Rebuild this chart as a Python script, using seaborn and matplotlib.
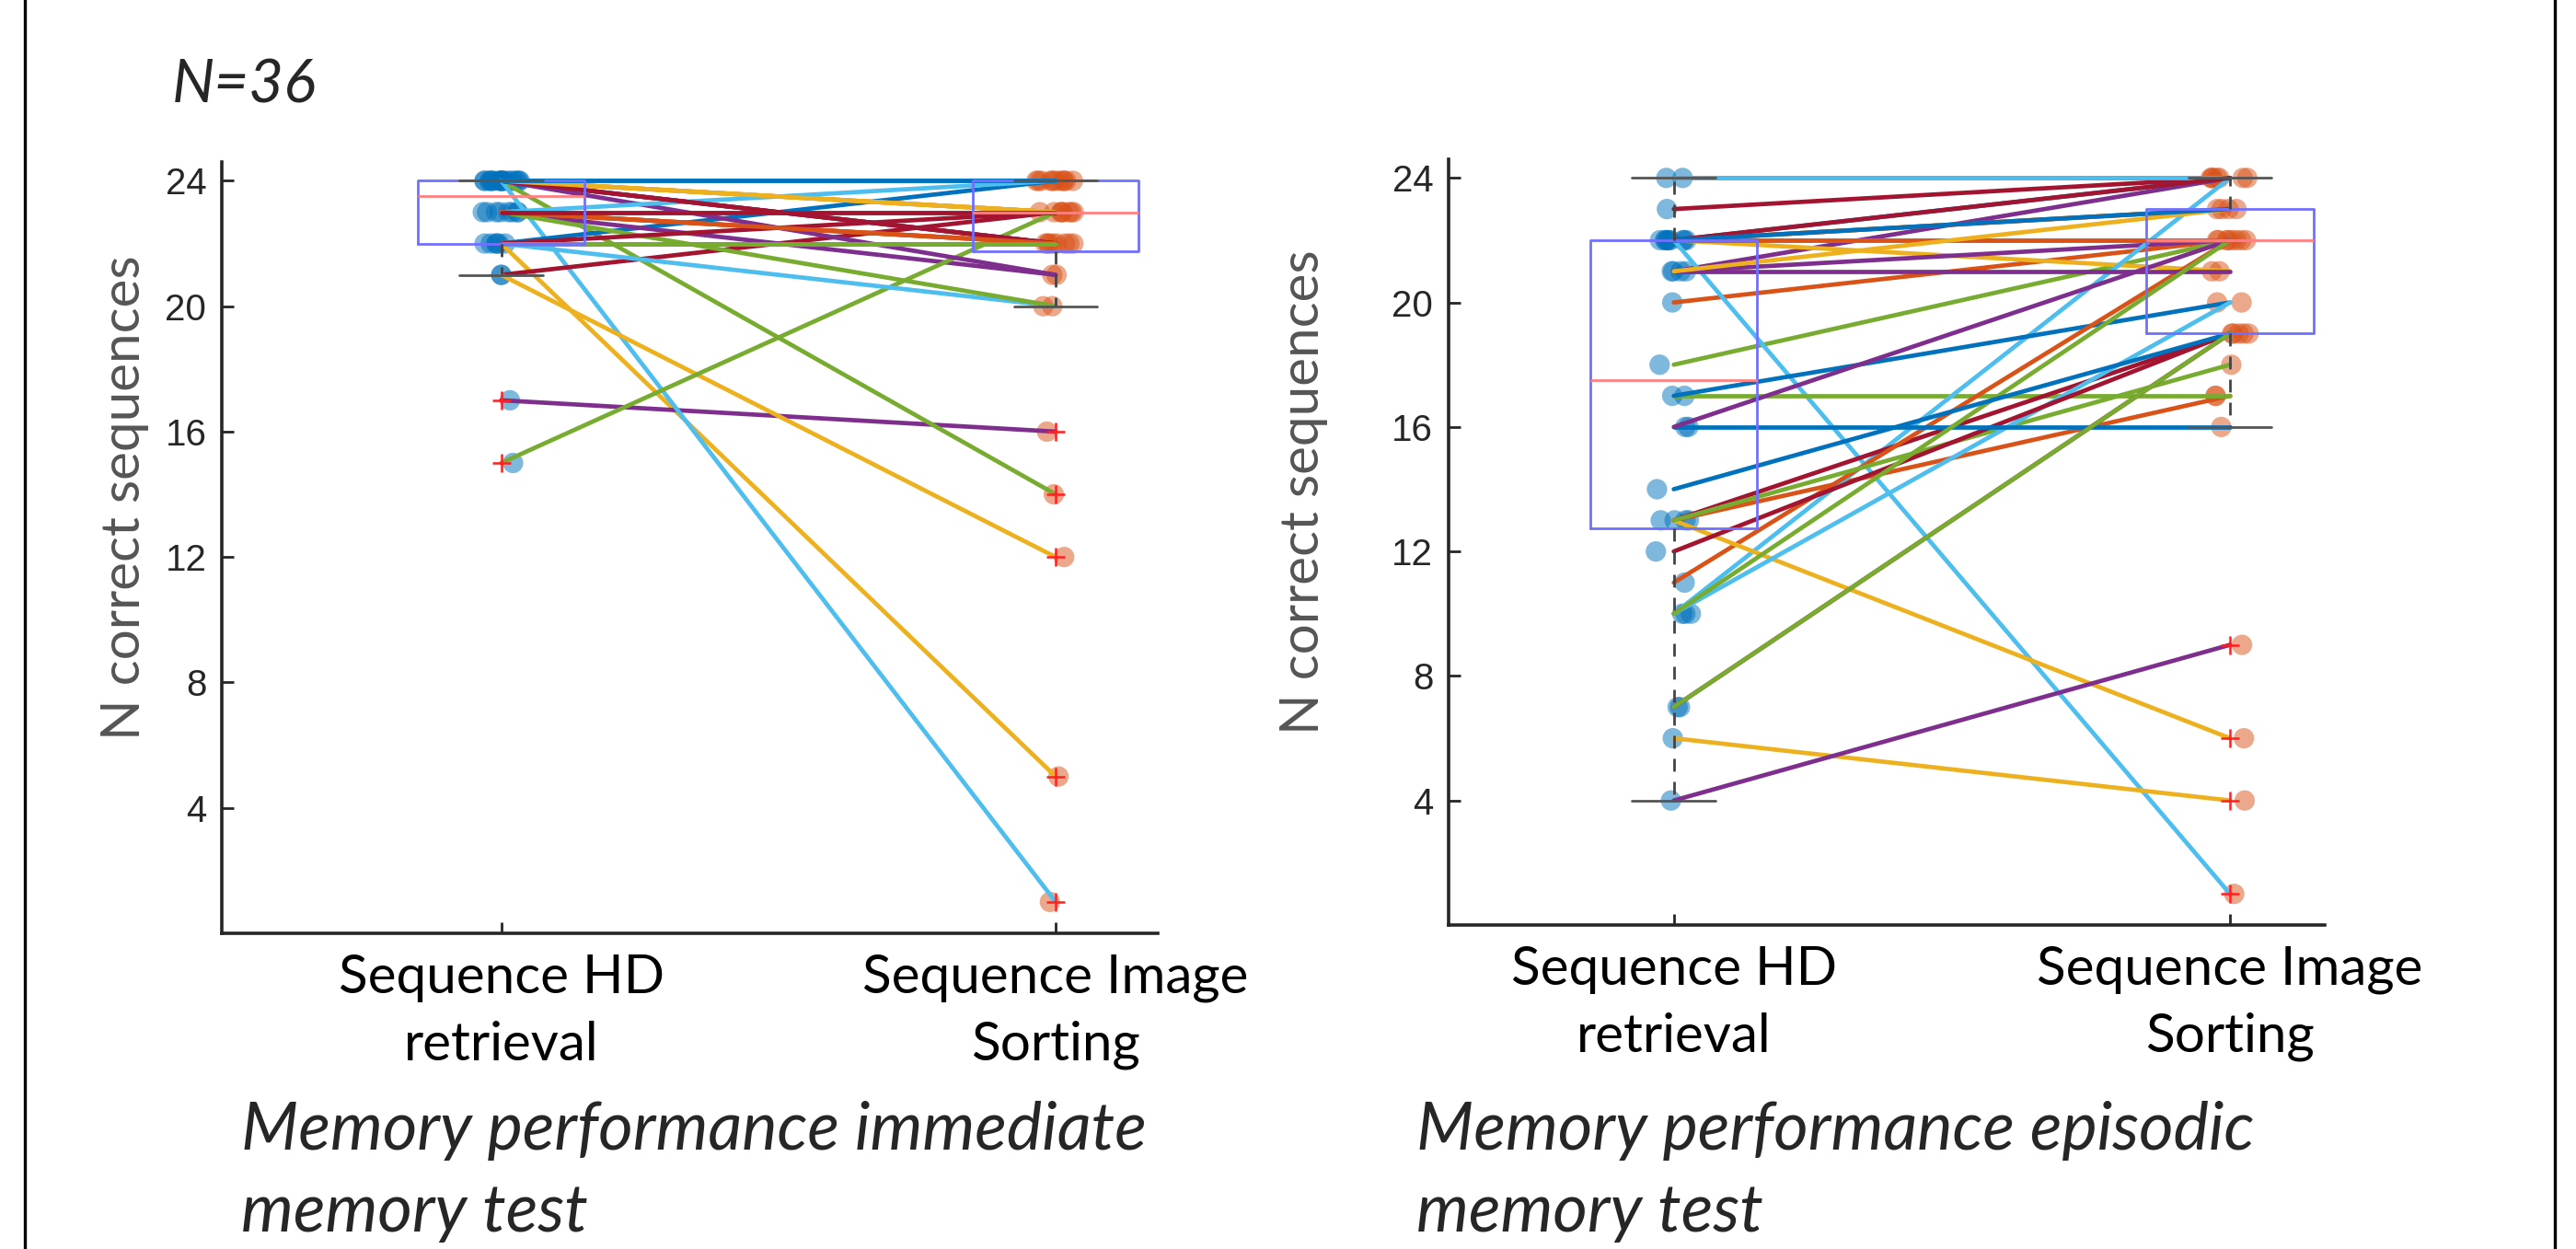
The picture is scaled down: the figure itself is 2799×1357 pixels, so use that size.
import numpy as np
import pandas as pd
import matplotlib
matplotlib.use("Agg")
import matplotlib.pyplot as plt
from matplotlib.patches import Rectangle
import seaborn as sns

# conditions on the x axis
conditions = ["Sequence HD\nretrieval", "Sequence Image\nSorting"]

# immediate memory test, one entry per participant (N=36)
immediate_hd = [24, 23, 22, 17, 24, 24, 21, 22, 24, 21, 23, 15, 22, 24, 24, 23, 24, 24,
                23, 23, 22, 24, 22, 24, 24, 23, 24, 24, 24, 23, 24, 24, 22, 24, 23, 24]
immediate_img = [24, 22, 5, 16, 14, 1, 23, 24, 23, 12, 21, 23, 20, 22, 24, 22, 23, 21,
                 20, 24, 23, 24, 22, 24, 22, 23, 24, 22, 24, 22, 23, 24, 22, 24, 23, 24]

# episodic memory test
episodic_hd = [24, 20, 22, 21, 18, 22, 23, 22, 13, 22, 21, 17, 10, 13, 17, 11, 13, 21,
               13, 10, 12, 16, 22, 6, 16, 10, 22, 7, 14, 22, 21, 4, 7, 24, 22, 22]
episodic_img = [24, 22, 23, 24, 22, 1, 24, 24, 17, 21, 22, 17, 24, 19, 20, 22, 6, 21,
                18, 20, 19, 16, 23, 4, 22, 22, 22, 19, 19, 22, 23, 9, 19, 24, 24, 23]

y_ticks = [4, 8, 12, 16, 20, 24]

# MATLAB default line colour order
matlab_colors = ["#0072BD", "#D95319", "#EDB120", "#7E2F8E", "#77AC30", "#4DBEEE", "#A2142F"]
point_colors = {conditions[0]: "#0072BD", conditions[1]: "#D95319"}

sns.set_style("ticks")
plt.rcParams["font.family"] = ["Liberation Sans", "DejaVu Sans"]

np.random.seed(7)


def make_long(hd, img):
    n = len(hd)
    return pd.DataFrame({
        "subject": list(range(n)) * 2,
        "cond": [conditions[0]] * n + [conditions[1]] * n,
        "pos": [0] * n + [1] * n,
        "value": list(hd) + list(img),
    })


def draw_panel(ax, hd, img, xlim, ylabel_x):
    df = make_long(hd, img)
    palette = [matlab_colors[i % 7] for i in range(len(hd))]

    sns.stripplot(data=df, x="cond", y="value", hue="cond", palette=point_colors,
                  order=conditions, jitter=0.035, size=16, alpha=0.5, linewidth=0,
                  legend=False, ax=ax, zorder=1)
    sns.lineplot(data=df, x="pos", y="value", hue="subject", palette=palette,
                 units="subject", estimator=None, sort=False, linewidth=3.4,
                 legend=False, ax=ax, zorder=2)
    sns.boxplot(data=df, x="cond", y="value", order=conditions, width=0.3,
                fill=False, color="#7070FF", linewidth=2,
                boxprops=dict(color="#7070FF", linewidth=2),
                medianprops=dict(color="#FF8080", linewidth=2),
                whiskerprops=dict(color="#444444", linestyle=(0, (5, 4)), linewidth=2),
                capprops=dict(color="#555555", linewidth=2),
                flierprops=dict(marker="+", markeredgecolor="#FF2020", markersize=14,
                                markeredgewidth=1.8),
                ax=ax)

    ax.set_xlim(*xlim)
    ax.set_ylim(0, 24.6)
    ax.set_yticks(y_ticks)
    ax.set_xticks([0, 1])
    ax.set_xticklabels(conditions, family="Lato", fontsize=42, color="black",
                       linespacing=1.45)
    ax.tick_params(axis="y", direction="in", length=9, width=2, labelsize=29,
                   labelcolor="#262626", pad=12)
    ax.tick_params(axis="x", direction="in", length=9, width=2, pad=16)
    ax.set_xlabel("")
    ax.set_ylabel("N correct sequences", family="Lato", fontsize=42, color="#555555")
    ax.yaxis.set_label_coords(ylabel_x, 0.565)
    for side in ["top", "right"]:
        ax.spines[side].set_visible(False)
    for side in ["left", "bottom"]:
        ax.spines[side].set_linewidth(2.6)
        ax.spines[side].set_color("#262626")


fig = plt.figure(figsize=(27.99, 13.57), dpi=100)
ax1 = fig.add_axes([0.0861, 0.2528, 0.3633, 0.6175])
ax2 = fig.add_axes([0.5623, 0.2594, 0.3401, 0.6131])

draw_panel(ax1, immediate_hd, immediate_img, (-0.504, 1.184), -0.078)
draw_panel(ax2, episodic_hd, episodic_img, (-0.405, 1.17), -0.138)

fig.text(0.0668, 0.9315, "N=36", family="Lato", style="italic", fontsize=47,
         va="center", ha="left")
fig.text(0.0937, 0.062, "Memory performance immediate\nmemory test", family="Lato",
         style="italic", fontsize=52, va="center", ha="left", linespacing=1.45)
fig.text(0.5498, 0.062, "Memory performance episodic\nmemory test", family="Lato",
         style="italic", fontsize=52, va="center", ha="left", linespacing=1.45)

# slide frame
fig.patches.append(Rectangle((27 / 2799, -0.05), (2776 - 27) / 2799, 1.1,
                             transform=fig.transFigure, fill=False,
                             edgecolor="black", linewidth=2.4, clip_on=False))

fig.savefig("out.png", dpi=100)
